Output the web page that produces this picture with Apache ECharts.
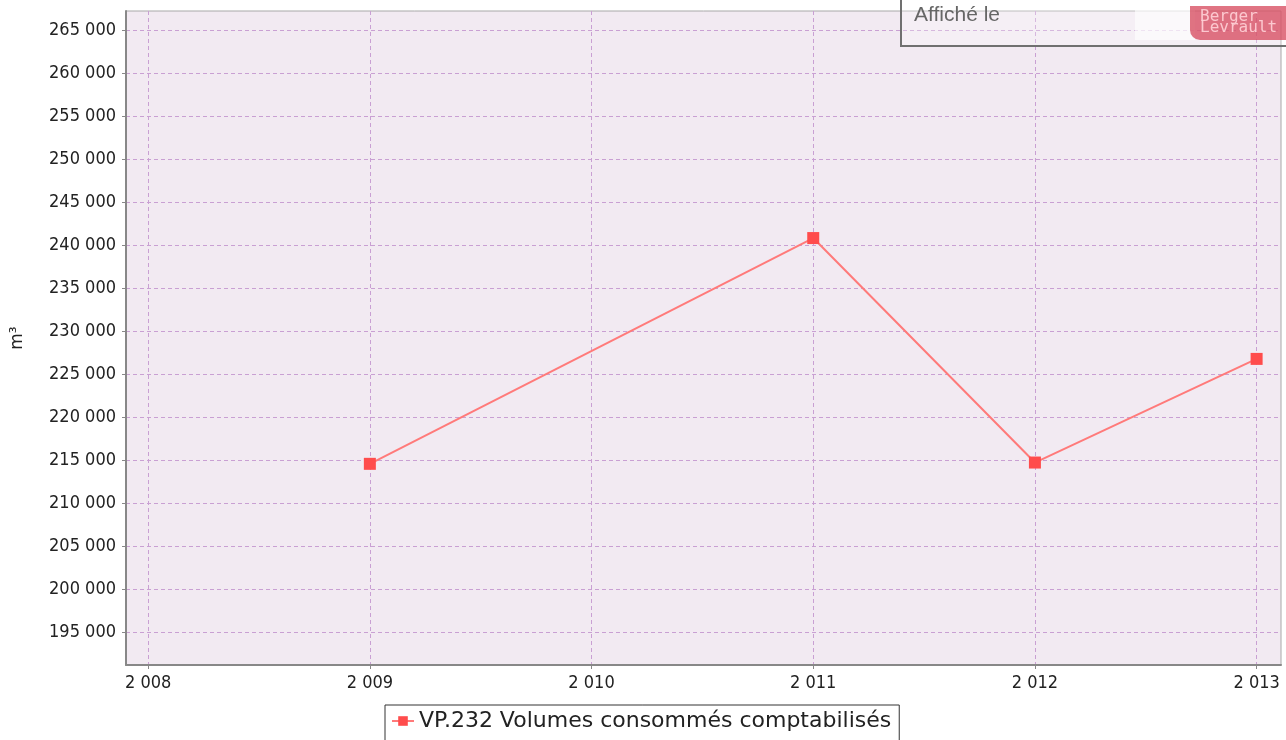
<!DOCTYPE html>
<html>
<head>
<meta charset="utf-8">
<script src="https://cdn.jsdelivr.net/npm/echarts@6/dist/echarts.min.js"></script>
<style>
  html, body { margin: 0; padding: 0; background: #fff; }
  #chart { width: 1286px; height: 740px; }
</style>
</head>
<body>
<div id="chart"></div>
<script>
const years = [2009, 2011, 2012, 2013];
const volumes = [214550, 240800, 214700, 226750];
const xTicks = [2008, 2009, 2010, 2011, 2012, 2013];
const yTicks = [195000, 200000, 205000, 210000, 215000, 220000, 225000, 230000,
  235000, 240000, 245000, 250000, 255000, 260000, 265000];
const seriesName = 'VP.232 Volumes consommés comptabilisés';

function spaced(v) {
  return String(Math.round(v)).replace(/\B(?=(\d{3})+(?!\d))/g, ' ');
}

const chart = echarts.init(document.getElementById('chart'));
const gridLine = { show: true, lineStyle: { color: '#c9a0d3', type: [4, 3], width: 1 } };
const tickFont = { color: '#222', fontFamily: 'DejaVu Sans Condensed, DejaVu Sans', fontSize: 18 };

chart.setOption({
  animation: false,
  grid: {
    left: 126, right: 5, top: 11, bottom: 75,
    show: true, backgroundColor: '#f2eaf2', borderColor: '#a8a8a8', borderWidth: 1
  },
  legend: {
    left: 385, top: 705,
    data: [seriesName],
    itemWidth: 22, itemHeight: 12, itemGap: 6,
    borderColor: '#333', borderWidth: 1, borderRadius: 0,
    padding: [5, 8, 12, 6],
    textStyle: { color: '#222', fontSize: 22, fontFamily: 'DejaVu Sans' }
  },
  xAxis: {
    type: 'value',
    min: 2007.9, max: 2013.11,
    axisLine: { show: true, onZero: false, lineStyle: { color: '#888', width: 2 } },
    axisTick: { show: true, length: 4, customValues: xTicks, lineStyle: { color: '#888' } },
    axisLabel: { customValues: xTicks, formatter: spaced, margin: 9, ...tickFont },
    splitLine: gridLine
  },
  yAxis: {
    type: 'value',
    min: 191160, max: 267200,
    name: 'm³',
    nameLocation: 'middle',
    nameGap: 100,
    nameTextStyle: { color: '#222', fontSize: 17, fontFamily: 'DejaVu Sans' },
    axisLine: { show: true, lineStyle: { color: '#888', width: 2 } },
    axisTick: { show: true, length: 4, customValues: yTicks, lineStyle: { color: '#888' } },
    axisLabel: { customValues: yTicks, formatter: spaced, margin: 10, ...tickFont },
    splitLine: gridLine
  },
  series: [{
    name: seriesName,
    type: 'line',
    data: years.map((y, i) => [y, volumes[i]]),
    symbol: 'rect',
    symbolSize: 12,
    itemStyle: { color: '#ff4c4c' },
    lineStyle: { color: '#ff7a7a', width: 2 }
  }],
  graphic: [
    {
      type: 'rect', left: 900, top: -4, z: 100,
      shape: { width: 400, height: 49 },
      style: { fill: 'rgba(255,255,255,0.25)', stroke: '#707070', lineWidth: 2 }
    },
    {
      type: 'text', left: 914, top: 5, z: 101,
      style: { text: 'Affiché le', fill: '#666', fontSize: 21, fontFamily: 'Liberation Sans' }
    },
    {
      type: 'rect', left: 1135, top: 10, z: 101,
      shape: { width: 60, height: 30 },
      style: { fill: 'rgba(255,255,255,0.6)' }
    },
    {
      type: 'rect', left: 1190, top: 6, z: 102,
      shape: { width: 110, height: 34, r: [0, 0, 0, 10] },
      style: { fill: 'rgba(214,70,90,0.75)' }
    },
    {
      type: 'text', left: 1200, top: 9, z: 103,
      style: { text: 'Berger\nLevrault', fill: 'rgba(255,210,215,0.9)', fontSize: 16,
        lineHeight: 11, fontFamily: 'DejaVu Sans Mono' }
    }
  ]
});
</script>
</body>
</html>
